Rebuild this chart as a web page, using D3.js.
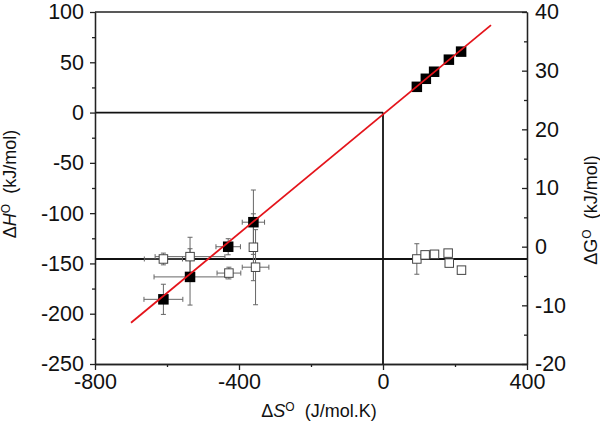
<!DOCTYPE html>
<html>
<head>
<meta charset="utf-8">
<script src="https://cdn.jsdelivr.net/npm/d3@7"></script>
<style>
  body { margin: 0; background: #fff; }
  svg { font-family: "Liberation Sans", Arial, sans-serif; }
</style>
</head>
<body>
<div id="chart"></div>
<script>
// filled squares: dH vs dS (left axis)
const filledS = [94, 119, 142, 183, 217, -360, -430, -536, -610];
const filledH = [25.6, 33.6, 40.6, 52.6, 60.6, -109, -133.4, -163.4, -185.7];
const filledSErr = [0, 0, 0, 0, 0, 31, 34, 100, 54];
const filledHErr = [0, 0, 0, 0, 0, 32, 8, 28, 15];

// open squares: dG vs dS (right axis)
const openS = [-610, -536, -428, -360, -354, 94, 117, 143, 181, 184, 218];
const openG = [-2.1, -1.7, -4.5, -0.1, -3.5, -2.1, -1.4, -1.3, -1.1, -2.8, -4.0];
const openSErr = [53, 97, 33, 0, 37, 0, 3, 3, 3, 3, 3];
const openGErr = [1, 3.3, 1, 5.7, 6.4, 2.6, 0.5, 0.5, 0.5, 0.5, 0.5];

// linear fit (red) end points
const fitS = [-700, 300];
const fitH = [-209, 87];

const leftTicks = [-250, -200, -150, -100, -50, 0, 50, 100];
const leftMinor = [-225, -175, -125, -75, -25, 25, 75];
const rightTicks = [-20, -10, 0, 10, 20, 30, 40];
const rightMinor = [-15, -5, 5, 15, 25, 35];
const bottomTicks = [-800, -400, 0, 400];
const bottomMinor = [-600, -200, 200];

const refG = -2.1; // horizontal reference line on the dG axis

const width = 600;
const height = 425;

const svg = d3.select('#chart').append('svg')
  .attr('width', width)
  .attr('height', height);

const x = d3.scaleLinear().domain([-800, 400]).range([95, 527]);
const yH = d3.scaleLinear().domain([-250, 100]).range([364, 12]);
const yG = d3.scaleLinear().domain([-20, 40]).range([364, 12]);

const fmt = (d) => String(d); // plain hyphen minus, like the original

// reference lines
svg.append('line')
  .attr('x1', x(-800)).attr('x2', x(0))
  .attr('y1', yH(0)).attr('y2', yH(0))
  .attr('stroke', '#111').attr('stroke-width', 1.8);
svg.append('line')
  .attr('x1', x(0)).attr('x2', x(0))
  .attr('y1', yH(0)).attr('y2', yH(-250))
  .attr('stroke', '#111').attr('stroke-width', 1.8);
svg.append('line')
  .attr('x1', x(-800)).attr('x2', x(400))
  .attr('y1', yG(refG)).attr('y2', yG(refG))
  .attr('stroke', '#111').attr('stroke-width', 1.8);

function errorBars(g, xs, ys, xe, ye, yScale) {
  const cap = 2.5;
  xs.forEach((s, i) => {
    const cx = x(s), cy = yScale(ys[i]);
    if (xe[i] > 0) {
      const x0 = x(s - xe[i]), x1 = x(s + xe[i]);
      g.append('line').attr('x1', x0).attr('x2', x1).attr('y1', cy).attr('y2', cy);
      g.append('line').attr('x1', x0).attr('x2', x0).attr('y1', cy - cap).attr('y2', cy + cap);
      g.append('line').attr('x1', x1).attr('x2', x1).attr('y1', cy - cap).attr('y2', cy + cap);
    }
    if (ye[i] > 0) {
      const y0 = yScale(ys[i] - ye[i]), y1 = yScale(ys[i] + ye[i]);
      g.append('line').attr('x1', cx).attr('x2', cx).attr('y1', y0).attr('y2', y1);
      g.append('line').attr('x1', cx - cap).attr('x2', cx + cap).attr('y1', y0).attr('y2', y0);
      g.append('line').attr('x1', cx - cap).attr('x2', cx + cap).attr('y1', y1).attr('y2', y1);
    }
  });
}

const bars = svg.append('g').attr('stroke', '#666').attr('stroke-width', 1);
errorBars(bars, openS, openG, openSErr, openGErr, yG);
errorBars(bars, filledS, filledH, filledSErr, filledHErr, yH);

// open squares
const os = 8.5;
svg.append('g').selectAll('rect')
  .data(openS.map((s, i) => ({ s, g: openG[i] })))
  .join('rect')
  .attr('x', (d) => x(d.s) - os / 2)
  .attr('y', (d) => yG(d.g) - os / 2)
  .attr('width', os).attr('height', os)
  .attr('fill', '#fff')
  .attr('stroke', '#444')
  .attr('stroke-width', 1);

// filled squares
const fs = 10.5;
svg.append('g').selectAll('rect')
  .data(filledS.map((s, i) => ({ s, h: filledH[i] })))
  .join('rect')
  .attr('x', (d) => x(d.s) - fs / 2)
  .attr('y', (d) => yH(d.h) - fs / 2)
  .attr('width', fs).attr('height', fs)
  .attr('fill', '#000');

// fit line
svg.append('line')
  .attr('x1', x(fitS[0])).attr('y1', yH(fitH[0]))
  .attr('x2', x(fitS[1])).attr('y2', yH(fitH[1]))
  .attr('stroke', '#e4141b').attr('stroke-width', 1.8);

// axes
function styleAxis(g) {
  g.selectAll('path').attr('stroke', '#222').attr('stroke-width', 1.3);
  g.selectAll('line').attr('stroke', '#222').attr('stroke-width', 1.3);
  g.selectAll('text')
    .attr('fill', '#111')
    .style('font-size', '21.5px')
    .style('font-family', '"Liberation Sans", Arial, sans-serif');
}

svg.append('g')
  .attr('transform', `translate(${x(-800)},0)`)
  .call(d3.axisLeft(yH).tickValues(leftMinor).tickFormat('').tickSize(3).tickSizeOuter(0))
  .call(styleAxis);
svg.append('g')
  .attr('transform', `translate(${x(-800)},0)`)
  .call(d3.axisLeft(yH).tickValues(leftTicks).tickFormat(fmt).tickSize(5).tickPadding(6).tickSizeOuter(0))
  .call(styleAxis);

svg.append('g')
  .attr('transform', `translate(${x(400)},0)`)
  .call(d3.axisRight(yG).tickValues(rightMinor).tickFormat('').tickSize(-3).tickSizeOuter(0))
  .call(styleAxis);
svg.append('g')
  .attr('transform', `translate(${x(400)},0)`)
  .call(d3.axisRight(yG).tickValues(rightTicks).tickFormat(fmt).tickSize(-5).tickPadding(8).tickSizeOuter(0))
  .call(styleAxis);

svg.append('g')
  .attr('transform', `translate(0,${yH(-250)})`)
  .call(d3.axisBottom(x).tickValues(bottomMinor).tickFormat('').tickSize(3).tickSizeOuter(0))
  .call(styleAxis);
svg.append('g')
  .attr('transform', `translate(0,${yH(-250)})`)
  .call(d3.axisBottom(x).tickValues(bottomTicks).tickFormat(fmt).tickSize(6).tickPadding(4).tickSizeOuter(0))
  .call(styleAxis);

// top border
svg.append('line')
  .attr('x1', x(-800)).attr('x2', x(400))
  .attr('y1', yH(100)).attr('y2', yH(100))
  .attr('stroke', '#222').attr('stroke-width', 1.3);

// axis titles
function title(t, sym, unit, italic) {
  t.attr('font-size', 18).attr('fill', '#111').attr('text-anchor', 'middle');
  t.append('tspan').text('\u0394');
  t.append('tspan').text(sym).attr('font-style', italic ? 'italic' : 'normal');
  t.append('tspan').text('O').attr('font-size', 12).attr('dy', -6);
  t.append('tspan').text('\u00a0 ' + unit).attr('dy', 6);
}

svg.append('text')
  .attr('transform', 'translate(16,184) rotate(-90)')
  .call(title, 'H', '(kJ/mol)', true);

svg.append('text')
  .attr('transform', 'translate(597,210) rotate(-90)')
  .call(title, 'G', '(kJ/mol)', false);

svg.append('text')
  .attr('x', 319).attr('y', 417)
  .call(title, 'S', '(J/mol.K)', true);
</script>
</body>
</html>
